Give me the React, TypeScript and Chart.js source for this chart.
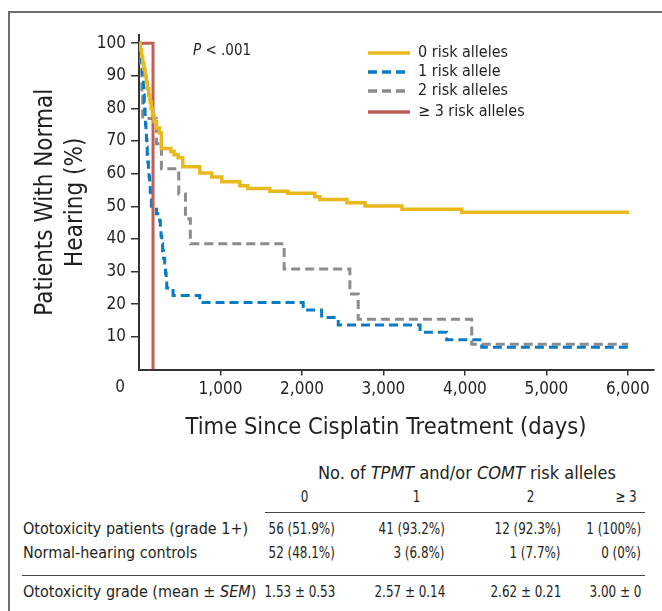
import React, { useEffect, useRef } from 'react';
import { Chart, registerables } from 'chart.js';
Chart.register(...registerables);

const FONT = '"Liberation Sans Narrow", "Arial Narrow", "DejaVu Sans Condensed", "Liberation Sans", sans-serif';
const TEXT = '#231f20';

// ---- chart data ----
const seriesLabels = ['0 risk alleles', '1 risk allele', '2 risk alleles', '≥ 3 risk alleles'];
const seriesColors = ['#E9B81D', '#0B7AC4', '#8C8C8E', '#BF5E57'];
const xTitle = 'Time Since Cisplatin Treatment (days)';
const yTitle = ['Patients With Normal', 'Hearing (%)'];

const time0 = [0, 15, 30, 45, 60, 75, 90, 105, 120, 135, 150, 165, 185, 215, 250, 275, 390, 430, 480, 537, 746, 893, 1016, 1237, 1335, 1606, 1827, 2158, 2220, 2552, 2773, 3227, 3961, 6016];
const surv0 = [100, 98, 96, 94, 92, 90, 88, 86, 84, 82, 80, 78, 76, 74, 72.5, 67.7, 66.8, 65.8, 64.9, 62.1, 60.2, 59.0, 57.5, 56.3, 55.5, 54.6, 54.0, 52.9, 52.1, 51.1, 50.1, 49.1, 48.2, 48.2];

const time1 = [0, 10, 20, 29, 40, 49, 55, 60, 65, 70, 75, 80, 85, 91, 96, 101, 107, 115, 123, 131, 138, 145, 152, 214, 254, 262, 270, 280, 290, 300, 315, 325, 333, 340, 418, 746, 2015, 2241, 2445, 3449, 3776, 4206, 6004];
const surv1 = [100, 97.7, 95.5, 93.2, 90.9, 88.6, 86.4, 84.1, 81.8, 79.5, 77.3, 75, 72.7, 70.5, 68.2, 65.9, 63.6, 61.4, 59.1, 56.8, 54.5, 52.3, 50, 47.7, 45.5, 43.2, 40.9, 38.6, 36.4, 34.1, 31.8, 29.5, 27.3, 25, 22.7, 20.5, 18.2, 15.9, 13.6, 11.4, 9.1, 6.8, 6.8];

const time2 = [0, 20, 35, 45, 214, 275, 488, 570, 630, 1781, 2588, 2690, 4083, 6004];
const surv2 = [100, 92.3, 84.6, 76.9, 69.2, 61.5, 53.8, 46.2, 38.5, 30.8, 23.1, 15.4, 7.7, 7.7];

const time3 = [0, 172];
const surv3 = [100, 0];

const xTickValues = [1000, 2000, 3000, 4000, 5000, 6000];
const yTickValues = [10, 20, 30, 40, 50, 60, 70, 80, 90, 100];

// ---- table data ----
const tableTitle = ['No. of ', 'TPMT', ' and/or ', 'COMT', ' risk alleles'];
const alleleCols = ['0', '1', '2', '≥ 3'];
const patientsRow = ['56 (51.9%)', '41 (93.2%)', '12 (92.3%)', '1 (100%)'];
const controlsRow = ['52 (48.1%)', '3 (6.8%)', '1 (7.7%)', '0 (0%)'];
const gradeRow = ['1.53 ± 0.53', '2.57 ± 0.14', '2.62 ± 0.21', '3.00 ± 0'];

const toPts = (t: number[], v: number[]) => t.map((x, i) => ({ x, y: v[i] }));

const overlayPlugin = {
  id: 'overlay',
  afterDraw(chart: any) {
    const { ctx, scales } = chart;
    const x = scales.x;
    const area = chart.chartArea;
    ctx.save();
    ctx.fillStyle = TEXT;
    // "0" corner label
    ctx.font = `17px ${FONT}`;
    ctx.textAlign = 'center';
    ctx.textBaseline = 'top';
    ctx.fillText('0', x.getPixelForValue(0) - 19, area.bottom + 10);
    // x axis title
    ctx.textBaseline = 'middle';
    ctx.font = `23.5px ${FONT}`;
    ctx.fillText(xTitle, 386, 428);
    // P value
    ctx.textAlign = 'left';
    ctx.font = `italic 15px ${FONT}`;
    ctx.fillText('P', 193, 51);
    const pw = ctx.measureText('P').width;
    ctx.font = `15px ${FONT}`;
    ctx.fillText(' < .001', 193 + pw, 51);
    // legend
    const rows = [53, 72, 91, 112];
    const dashes = [[], [9, 5], [9, 5], []];
    seriesLabels.forEach((lab, i) => {
      ctx.save();
      ctx.strokeStyle = seriesColors[i];
      ctx.lineWidth = 3.5;
      ctx.setLineDash(dashes[i]);
      ctx.beginPath();
      ctx.moveTo(368, rows[i]);
      ctx.lineTo(410, rows[i]);
      ctx.stroke();
      ctx.restore();
      ctx.font = `16px ${FONT}`;
      ctx.fillStyle = TEXT;
      ctx.fillText(lab, 418, rows[i]);
    });
    ctx.restore();
  },
};

export default function App() {
  const ref = useRef<HTMLCanvasElement>(null);
  useEffect(() => {
    const chart = new Chart(ref.current as HTMLCanvasElement, {
      type: 'line',
      data: {
        datasets: [
          { label: seriesLabels[0], data: toPts(time0, surv0), borderColor: seriesColors[0], borderWidth: 3.5, stepped: 'before', pointRadius: 0, order: 0 },
          { label: seriesLabels[1], data: toPts(time1, surv1), borderColor: seriesColors[1], borderWidth: 3, borderDash: [9, 5], stepped: 'before', pointRadius: 0, order: 2 },
          { label: seriesLabels[2], data: toPts(time2, surv2), borderColor: seriesColors[2], borderWidth: 3, borderDash: [9, 5], stepped: 'before', pointRadius: 0, order: 3 },
          { label: seriesLabels[3], data: toPts(time3, surv3), borderColor: seriesColors[3], borderWidth: 3, stepped: 'before', pointRadius: 0, order: 1 },
        ] as any,
      },
      options: {
        animation: false,
        responsive: true,
        maintainAspectRatio: false,
        layout: { padding: { top: 35, right: 8, left: 0, bottom: 0 } },
        plugins: { legend: { display: false }, tooltip: { enabled: false } },
        scales: {
          x: {
            type: 'linear',
            min: 0,
            max: 6320,
            afterBuildTicks: (s: any) => { s.ticks = xTickValues.map((v) => ({ value: v })); },
            afterFit: (s: any) => { s.height = 80.5; },
            ticks: {
              callback: (v: any) => Number(v).toLocaleString('en-US'),
              font: { family: FONT, size: 17 },
              color: TEXT,
              padding: 4,
              maxRotation: 0,
              autoSkip: false,
            },
            grid: { display: true, drawOnChartArea: false, drawTicks: true, tickLength: 6, color: '#333', lineWidth: 1.5 },
            border: { display: true, color: '#333', width: 2 },
            title: { display: false },
          },
          y: {
            type: 'linear',
            min: 0,
            max: 102.5,
            afterBuildTicks: (s: any) => { s.ticks = yTickValues.map((v) => ({ value: v })); },
            afterFit: (s: any) => { s.width = 139; },
            ticks: { font: { family: FONT, size: 17 }, color: TEXT, padding: 5 },
            grid: { display: true, drawOnChartArea: false, drawTicks: true, tickLength: 8, color: '#333', lineWidth: 1.5 },
            border: { display: true, color: '#333', width: 2 },
            title: { display: true, text: yTitle, font: { family: FONT, size: 24, lineHeight: 1.25 }, color: TEXT, padding: { top: 31, bottom: 0 } },
          },
        },
      } as any,
      plugins: [overlayPlugin],
    });
    return () => chart.destroy();
  }, []);

  const narrow = (text: React.ReactNode, origin: string) => (
    <span style={{ display: 'inline-block', transform: 'scaleX(0.83)', transformOrigin: origin }}>{text}</span>
  );
  const cell = (text: React.ReactNode, top: number, right: number, key?: string) => (
    <div key={key} style={{ position: 'absolute', top: top - 11, right: 662 - right, height: 22, lineHeight: '22px', whiteSpace: 'nowrap', textAlign: 'right' }}>{narrow(text, 'right center')}</div>
  );
  const center = (text: React.ReactNode, top: number, cx: number, key?: string, size?: number) => (
    <div key={key} style={{ position: 'absolute', top: top - 11, left: cx - 200, width: 400, height: 22, lineHeight: '22px', whiteSpace: 'nowrap', textAlign: 'center', fontSize: size }}>{text}</div>
  );
  const left = (text: React.ReactNode, top: number, x: number) => (
    <div style={{ position: 'absolute', top: top - 11, left: x, height: 22, lineHeight: '22px', whiteSpace: 'nowrap' }}>{text}</div>
  );
  const colRight = [335, 445, 561, 641];
  const colCenter = [305, 417, 531, 626];

  return (
    <div style={{ position: 'absolute', left: 0, top: 0, width: 662, height: 611, overflow: 'hidden', background: '#fff', fontFamily: FONT, color: TEXT, fontSize: 16 }}>
      <div style={{ position: 'absolute', left: 8, top: 11, width: 800, height: 800, borderLeft: '2px solid #6d6d6d', borderTop: '2px solid #6d6d6d' }} />
      <div style={{ position: 'absolute', left: 0, top: 0, width: 662, height: 450 }}>
        <canvas ref={ref} />
      </div>
      {center(<span>{tableTitle.map((s, i) => (i % 2 === 1 ? <i key={i}>{s}</i> : <span key={i}>{s}</span>))}</span>, 473, 467, 'tt', 18)}
      {alleleCols.map((c, i) => center(narrow(c, 'center center'), 497, colCenter[i], 'h' + i))}
      <div style={{ position: 'absolute', left: 265, width: 380, top: 512, height: 0, borderTop: '1.5px solid #444' }} />
      {left('Ototoxicity patients (grade 1+)', 529, 23)}
      {patientsRow.map((c, i) => cell(c, 529, colRight[i], 'p' + i))}
      {left('Normal-hearing controls', 553, 23)}
      {controlsRow.map((c, i) => cell(c, 553, colRight[i], 'c' + i))}
      <div style={{ position: 'absolute', left: 22, width: 623, top: 575, height: 0, borderTop: '1.5px solid #444' }} />
      {left(<span>Ototoxicity grade (mean ± <i>SEM</i>)</span>, 592, 23)}
      {gradeRow.map((c, i) => cell(c, 592, colRight[i], 'g' + i))}
    </div>
  );
}
